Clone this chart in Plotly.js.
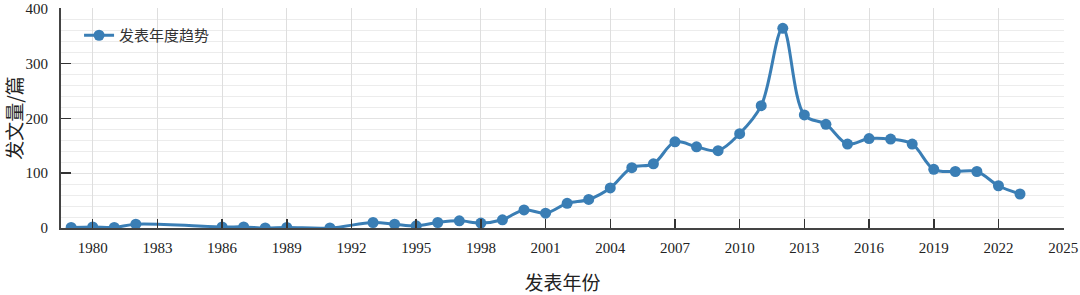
<!DOCTYPE html>
<html>
<head>
<meta charset="utf-8">
<script src="https://cdn.plot.ly/plotly-3.0.1.min.js"></script>
<style>
html,body{margin:0;padding:0;background:#fff;}
#chart{width:1080px;height:295px;}
</style>
</head>
<body>
<div id="chart"></div>
<script>
const years = [1979,1980,1981,1982,1986,1987,1988,1989,1991,1993,1994,1995,1996,1997,1998,1999,2000,2001,2002,2003,2004,2005,2006,2007,2008,2009,2010,2011,2012,2013,2014,2015,2016,2017,2018,2019,2020,2021,2022,2023];
const counts = [1,2,1,7,2,2,0,1,0,10,7,4,10,13,9,15,33,27,45,52,73,110,117,157,148,141,172,223,364,206,189,153,163,162,153,107,103,103,77,62];
const xTicks = [1980,1983,1986,1989,1992,1995,1998,2001,2004,2007,2010,2013,2016,2019,2022,2025];
const yTicks = [0,100,200,300,400];
const seriesName = '发表年度趋势';
const xTitle = '发表年份';
const yTitle = '发文量/篇';

const FONT = 'Liberation Serif, Noto Sans CJK SC, serif';
const COLOR = '#3a7eb5';

const trace = {
  x: years, y: counts, name: seriesName,
  type: 'scatter', mode: 'lines+markers',
  line: {color: COLOR, width: 3, shape: 'spline', smoothing: 1},
  marker: {color: COLOR, size: 11},
  showlegend: true
};

const layout = {
  width: 1080, height: 295,
  margin: {l: 61, r: 16, t: 8, b: 67},
  paper_bgcolor: '#fff', plot_bgcolor: '#fff',
  font: {family: FONT, size: 15, color: '#222'},
  showlegend: true,
  legend: {x: 0.018, y: 0.95, xanchor: 'left', yanchor: 'top', bgcolor: 'rgba(0,0,0,0)',
           font: {family: 'Noto Sans CJK SC', size: 15, color: '#333'}},
  xaxis: {
    range: [1978.53, 2025.04], tickvals: xTicks, ticktext: xTicks.map(String),
    ticks: 'inside', ticklen: 9, tickwidth: 1.5, tickcolor: '#333',
    showline: true, linecolor: '#444', linewidth: 2,
    showgrid: true, gridcolor: '#dedede', gridwidth: 1, zeroline: false,
    tickfont: {family: FONT, size: 15, color: '#222'},
    ticklabeloverflow: 'allow',
    title: {text: xTitle, font: {family: 'Noto Sans CJK SC', size: 19, color: '#222'}, standoff: 22},
    ticklabelstandoff: 5
  },
  yaxis: {
    range: [0, 401], tickvals: yTicks, ticktext: yTicks.map(String),
    ticks: 'inside', ticklen: 10, tickwidth: 1.5, tickcolor: '#333',
    showline: true, linecolor: '#444', linewidth: 2,
    showgrid: true, gridcolor: '#e2e2e2', gridwidth: 1, zeroline: false,
    minor: {dtick: 20, showgrid: true, gridcolor: '#ececec', gridwidth: 1, ticks: ''},
    tickfont: {family: FONT, size: 15, color: '#222'},
    ticklabeloverflow: 'allow',
    title: {text: yTitle, font: {family: 'Noto Sans CJK SC', size: 19, color: '#222'}, standoff: 12},
    ticklabelstandoff: 8
  }
};

Plotly.newPlot('chart', [trace], layout, {displayModeBar: false, staticPlot: true});
</script>
</body>
</html>
